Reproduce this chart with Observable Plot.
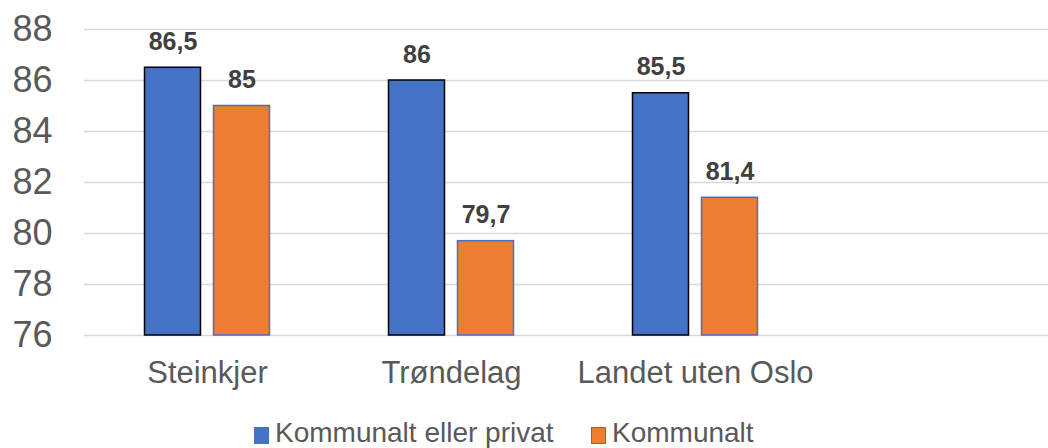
<!DOCTYPE html>
<html><head><meta charset="utf-8">
<script src="https://cdn.jsdelivr.net/npm/d3@7"></script>
<script src="https://cdn.jsdelivr.net/npm/@observablehq/plot@0.6"></script>
<style>
html,body{margin:0;padding:0;background:#fff;overflow:hidden;width:1048px;height:448px;}
#wrap{position:relative;width:1048px;height:448px;font-family:"Liberation Sans",Arial,sans-serif;}
#chart svg{display:block;}
.sw{position:absolute;width:15px;height:17px;box-sizing:border-box;}
.lt{position:absolute;font-size:28px;line-height:28px;color:#595959;white-space:nowrap;}
</style></head><body><div id="wrap"><div id="chart"></div><div id="legend"></div></div>
<script>
const categories = ["Steinkjer", "Trøndelag", "Landet uten Oslo"];
const series = ["Kommunalt eller privat", "Kommunalt"];
const kommunaltEllerPrivat = [86.5, 86, 85.5];
const kommunalt = [85, 79.7, 81.4];
const yTicks = [76, 78, 80, 82, 84, 86, 88];

const fmt = v => String(v).replace(".", ",");
const rowsA = categories.map((c, i) => ({cat: c, series: series[0], value: kommunaltEllerPrivat[i]}));
const rowsB = categories.map((c, i) => ({cat: c, series: series[1], value: kommunalt[i]}));

const step = 244.5;
const plot = Plot.plot({
  width: 1048, height: 400,
  marginTop: 29, marginBottom: 65, marginLeft: 84, marginRight: 0,
  style: {fontFamily: "Liberation Sans, Arial, sans-serif", color: "#595959", background: "#fff", overflow: "hidden"},
  x: {domain: categories, range: [84, 84 + 3 * step], paddingInner: 0.771, paddingOuter: 0.3855},
  y: {domain: [76, 88]},
  marks: [
    Plot.ruleY(yTicks, {stroke: "#d9d9d9", strokeWidth: 1.4}),
    Plot.barY(rowsA, {x: "cat", y1: 76, y2: "value", dx: -34.5, fill: "#4472C4", stroke: "#000", strokeWidth: 1.5}),
    Plot.barY(rowsB, {x: "cat", y1: 76, y2: "value", dx: 34.5, fill: "#ED7D31", stroke: "#4472C4", strokeWidth: 1.5}),
    Plot.text(rowsA, {x: "cat", y: "value", text: d => fmt(d.value), dx: -34.5, dy: -18, lineAnchor: "bottom", fontSize: 25, fontWeight: "bold", fill: "#404040"}),
    Plot.text(rowsB, {x: "cat", y: "value", text: d => fmt(d.value), dx: 34.5, dy: -18, lineAnchor: "bottom", fontSize: 25, fontWeight: "bold", fill: "#404040"}),
    Plot.axisY({ticks: yTicks, tickSize: 0, tickPadding: 32, fontSize: 36, label: null}),
    Plot.axisX({tickSize: 0, tickPadding: 25, fontSize: 31, label: null})
  ]
});
document.getElementById("chart").appendChild(plot);

// legend
const legend = document.getElementById("legend");
const items = [
  {name: series[0], left: 254, fill: "#4472C4", border: "#4472C4"},
  {name: series[1], left: 591, fill: "#ED7D31", border: "#4472C4"}
];
items.forEach(it => {
  const sw = document.createElement("div");
  sw.className = "sw";
  sw.style.left = it.left + "px";
  sw.style.top = "427px";
  sw.style.background = it.fill;
  sw.style.border = "1.5px solid " + it.border;
  legend.appendChild(sw);
  const t = document.createElement("div");
  t.className = "lt";
  t.style.left = (it.left + 21) + "px";
  t.style.top = "419px";
  t.textContent = it.name;
  legend.appendChild(t);
});
</script>
</body></html>
